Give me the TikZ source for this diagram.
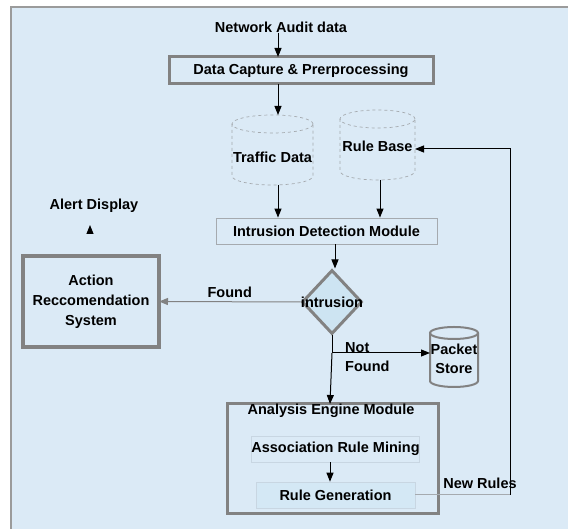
\documentclass[tikz,border=0pt]{standalone}
\usepackage{fontspec}
\setmainfont{Liberation Sans}
\usetikzlibrary{shapes.geometric,arrows.meta,calc}
\definecolor{bgblue}{RGB}{219,234,246}
\definecolor{dfill}{RGB}{205,228,242}
\definecolor{rgfill}{RGB}{212,232,245}
\definecolor{bordgray}{RGB}{130,130,130}
\definecolor{thingray}{RGB}{165,170,175}
\definecolor{faint}{RGB}{200,214,226}
\newcommand\mycyl[4]{%
 \draw[#4] ([yshift=-#3pt]#1.north west) -- ([yshift=#3pt]#1.south west) arc[start angle=180,end angle=360,x radius=#2pt,y radius=#3pt] -- ([yshift=-#3pt]#1.north east);
 \draw[#4] ([yshift=-#3pt]#1.north) ellipse[x radius=#2pt, y radius=#3pt];
}
\tikzset{
 txt/.style={font=\fontsize{14.5}{17}\selectfont\bfseries, inner sep=0pt},
 cylbox/.style={draw=none, inner sep=0pt, outer sep=0pt},
 arr/.style={-{Triangle[length=9pt,width=7pt]}, line width=1pt, black},
 thickbox/.style={draw=bordgray, line width=3pt, inner sep=0pt, outer sep=0pt},
}
\begin{document}
\begin{tikzpicture}[x=1pt,y=1pt]
\useasboundingbox (0,0) rectangle (568,529);
\fill[bgblue] (11,0) rectangle (568,522);
\draw[bordgray!80, line width=1.5pt] (11,0) -- (11,522) -- (568,522);

% nodes
\node[txt] (net) at (281,502) {Network Audit data};
\node[thickbox, minimum width=264, minimum height=27, txt] (dcp) at (301,458.5) {Data Capture \& Prerprocessing};
\node[cylbox, minimum width=81, minimum height=70, label={[txt, yshift=-7pt]center:Traffic Data}] (traffic) at (272.5,379) {};
\node[cylbox, minimum width=75, minimum height=70, label={[txt, yshift=-1pt]center:Rule Base}] (rule) at (377.5,384) {};
\node[draw=thingray, line width=0.8pt, minimum width=221, minimum height=26, inner sep=0pt, txt] (idm) at (326.5,298) {Intrusion Detection Module};
\node[diamond, draw=bordgray, fill=dfill, line width=3pt, minimum width=60, minimum height=64, inner sep=0pt, label={[txt]center:intrusion}] (dia) at (332,227) {};
\node[thickbox, line width=4pt, minimum width=136, minimum height=91, txt, align=center, font=\fontsize{14.5}{20}\selectfont\bfseries] (act) at (91,227.5) {Action\\Reccomendation\\System};
\node[txt] (alert) at (94,323) {Alert Display};
\node[cylbox, minimum width=48, minimum height=60, label={[txt, align=center, font=\fontsize{14.5}{19}\selectfont\bfseries, yshift=-2pt]center:Packet\\Store}] (pkt) at (454,172) {};
\node[thickbox, minimum width=211, minimum height=110] (aem) at (332.5,70) {};
\node[txt] (aemt) at (331,118) {Analysis Engine Module};
\node[draw=faint, line width=0.6pt, minimum width=159, minimum height=26, inner sep=0pt, txt] (arm) at (335.5,80) {Association Rule Mining};
\node[draw=faint, fill=rgfill, line width=0.6pt, minimum width=159, minimum height=26, inner sep=0pt, txt] (rg) at (335.5,34) {Rule Generation};

% cylinders
\mycyl{traffic}{40.5}{9}{dashed, draw=thingray, line width=0.7pt}
\mycyl{rule}{37.5}{9}{dashed, draw=thingray, line width=0.7pt}
\mycyl{pkt}{24}{6}{draw=bordgray, line width=2pt}

% connectors
\coordinate (ax) at (278,0);
\coordinate (bx) at (380,0);
\coordinate (cx) at (335,0);
\coordinate (dx) at (330,0);
\draw[arr] (ax |- net.south) -- (ax |- dcp.north);
\draw[arr] (ax |- dcp.south) -- (ax |- traffic.north);
\draw[arr] (ax |- traffic.south) -- (ax |- idm.north);
\draw[arr] (bx |- rule.south) -- (bx |- idm.north);
\draw[arr] (cx |- idm.south) -- (cx |- dia.north);
\draw[arr, draw=bordgray] (dia.west) -- (act.east) node[pos=0.5, above=4pt, txt, black] {Found};
\coordinate (br) at (332,176);
\draw[line width=1pt] (dia.south) -- (br);
\draw[arr] (br) -- (pkt.west |- br);
\draw[arr] (br) -- (dx |- aem.north);
\node[txt, anchor=west, align=left, font=\fontsize{14.5}{19}\selectfont\bfseries] (nf) at (345,171.5) {Not\\Found};
\coordinate (alerttip) at (90,304);
\draw[arr] (90,297) -- (alerttip);
\draw[arr] (dx |- arm.south) -- (dx |- rg.north);
\coordinate (fb) at (510,380);
\draw[thingray, line width=1pt] (rg.east) -- (rg.east -| fb);
\draw[arr] (rg.east -| fb) -- (fb) -- (rule.east |- fb);
\node[txt] (newr) at (480,46) {New Rules};
\end{tikzpicture}
\end{document}
